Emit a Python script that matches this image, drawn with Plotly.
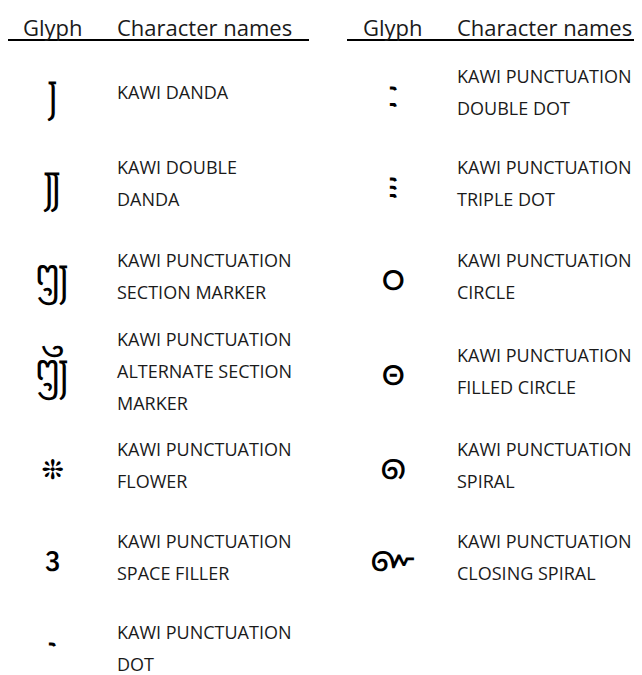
import plotly.graph_objects as go

# ---- data ----
headers = ["Glyph", "Character names"]
glyphs_left = ["\U00011F43", "\U00011F44", "\U00011F45", "\U00011F46", "\U00011F47", "\U00011F48", "\U00011F49"]
names_left = [
    ["KAWI DANDA"],
    ["KAWI DOUBLE", "DANDA"],
    ["KAWI PUNCTUATION", "SECTION MARKER"],
    ["KAWI PUNCTUATION", "ALTERNATE SECTION", "MARKER"],
    ["KAWI PUNCTUATION", "FLOWER"],
    ["KAWI PUNCTUATION", "SPACE FILLER"],
    ["KAWI PUNCTUATION", "DOT"],
]
glyphs_right = ["\U00011F4A", "\U00011F4B", "\U00011F4C", "\U00011F4D", "\U00011F4E", "\U00011F4F"]
names_right = [
    ["KAWI PUNCTUATION", "DOUBLE DOT"],
    ["KAWI PUNCTUATION", "TRIPLE DOT"],
    ["KAWI PUNCTUATION", "CIRCLE"],
    ["KAWI PUNCTUATION", "FILLED CIRCLE"],
    ["KAWI PUNCTUATION", "SPIRAL"],
    ["KAWI PUNCTUATION", "CLOSING SPIRAL"],
]

# ---- layout constants (screen pixels) ----
W, H = 642, 675
OFF = 8  # page body margin
row_centers = [92, 183, 276, 371, 465, 557, 648]
line_gap = 32
header_y = 27
rule_y = 40
tables = [
    dict(glyphs=glyphs_left, names=names_left, gx=52, tx=116, hx0=53, hx1=116, rx0=7, rx1=309),
    dict(glyphs=glyphs_right, names=names_right, gx=393, tx=456, hx0=393, hx1=456, rx0=347, rx1=660),
]
FONT = "Open Sans"
TXT = "#1a1a1a"

fig = go.Figure()
ann = []
shapes = []
for t in tables:
    ann.append(dict(x=t["hx0"], y=header_y, text=headers[0], xanchor="center", yanchor="middle",
                    font=dict(family=FONT, size=22, color=TXT)))
    ann.append(dict(x=t["hx1"], y=header_y, text=headers[1], xanchor="left", yanchor="middle",
                    font=dict(family=FONT, size=22, color=TXT)))
    shapes.append(dict(type="line", x0=t["rx0"], x1=t["rx1"], y0=rule_y, y1=rule_y,
                       line=dict(color="#000000", width=2)))
    for i, (g, nm) in enumerate(zip(t["glyphs"], t["names"])):
        c = row_centers[i]
        ann.append(dict(x=t["gx"], y=c, text=g, xanchor="center", yanchor="middle",
                        font=dict(family=FONT, size=36, color="#000000")))
        n = len(nm)
        for k, line in enumerate(nm):
            y = c + (k - (n - 1) / 2) * line_gap
            ann.append(dict(x=t["tx"], y=y, text=line, xanchor="left", yanchor="middle",
                            font=dict(family=FONT, size=18, color=TXT)))

for a in ann:
    a.update(xref="x", yref="y", showarrow=False, borderpad=0)

fig.update_layout(
    width=W, height=H, margin=dict(l=0, r=0, t=0, b=0),
    paper_bgcolor="white", plot_bgcolor="white",
    xaxis=dict(range=[OFF, W + OFF], visible=False, fixedrange=True),
    yaxis=dict(range=[H + OFF, OFF], visible=False, fixedrange=True),
    annotations=ann, shapes=shapes, showlegend=False,
)
fig.write_html("out.html")
